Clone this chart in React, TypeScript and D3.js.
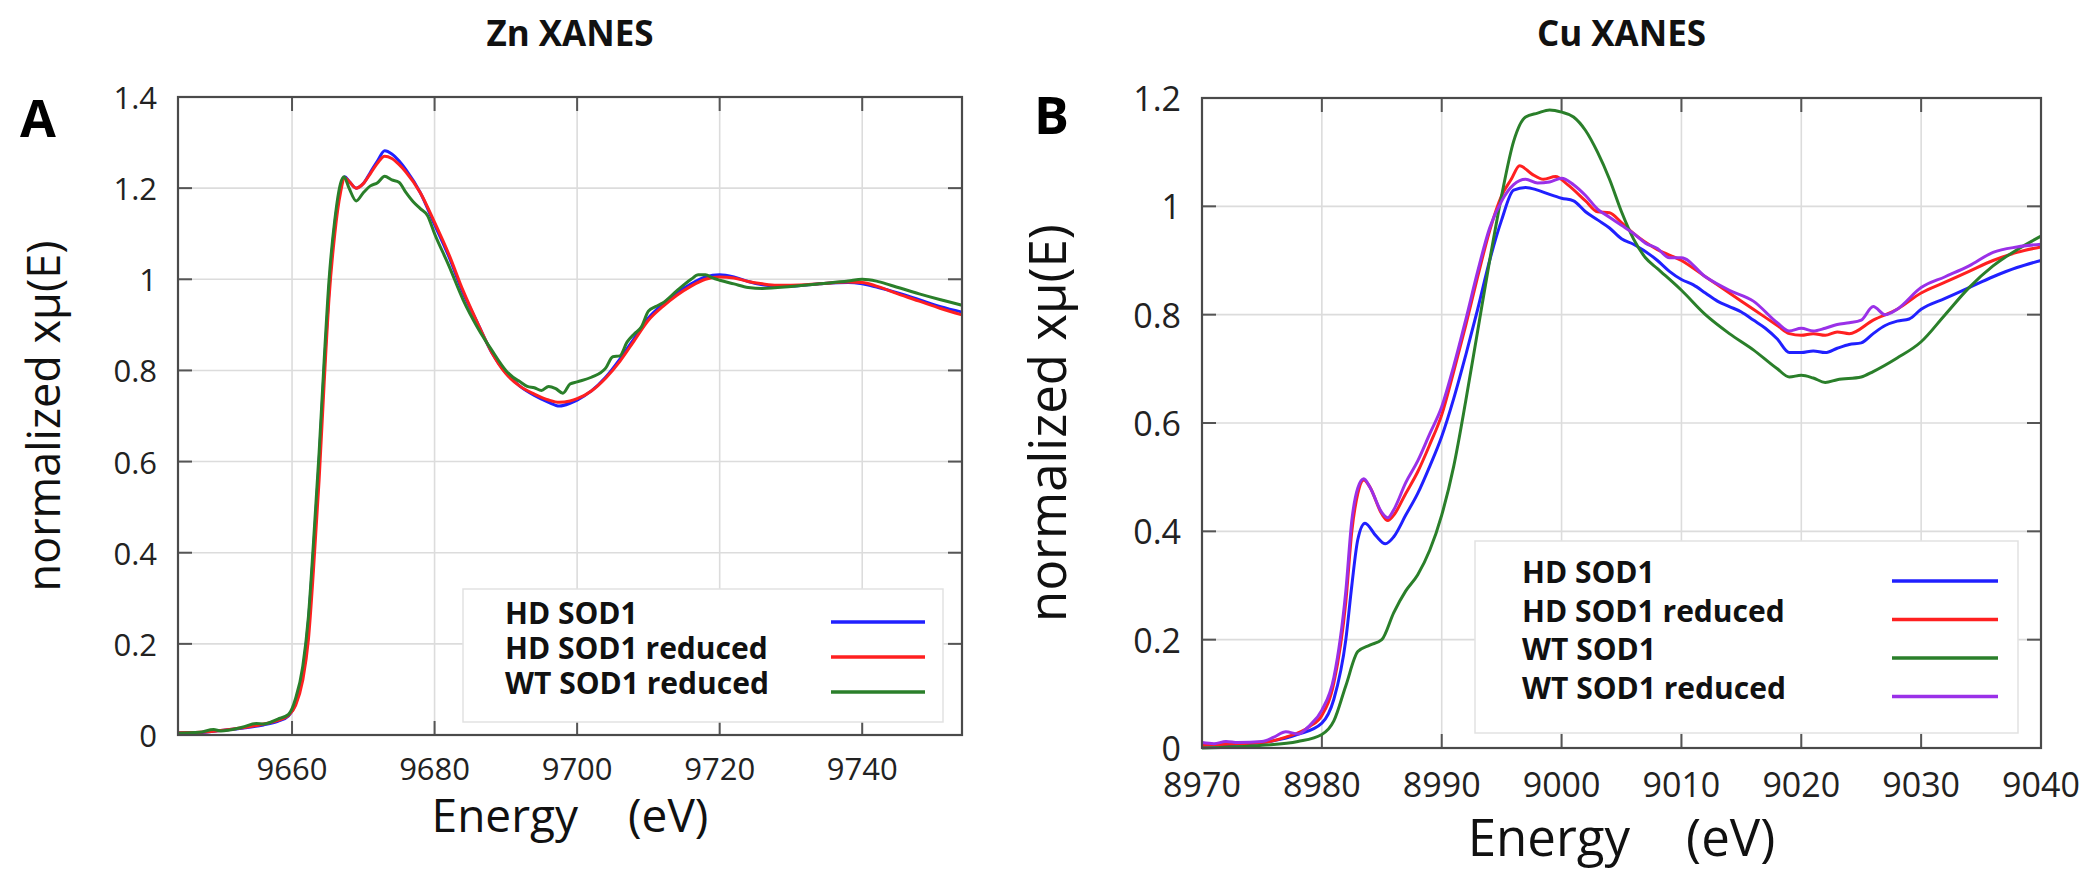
import React from "react";
import * as d3 from "d3";

type Pt = [number, number];

// ---------- Panel A : Zn XANES ----------
const znXTicks = [9660, 9680, 9700, 9720, 9740];
const znYTicks = [0, 0.2, 0.4, 0.6, 0.8, 1, 1.2, 1.4];

const znHD: Pt[] = [
  [9644, 0.005], [9647, 0.005], [9650, 0.01], [9653, 0.015], [9656, 0.022], [9658, 0.03], [9659.5, 0.042],
  [9660.5, 0.07], [9661.5, 0.14], [9662.3, 0.25], [9663, 0.4], [9663.8, 0.6], [9664.5, 0.8], [9665.2, 0.98],
  [9666, 1.12], [9666.8, 1.2], [9667.4, 1.225], [9668, 1.215], [9669, 1.2], [9670, 1.21], [9671, 1.235],
  [9672, 1.26], [9673, 1.282], [9674, 1.275], [9675, 1.26], [9676, 1.24], [9678, 1.19], [9680, 1.12],
  [9682, 1.05], [9684, 0.97], [9686, 0.905], [9688, 0.84], [9690, 0.795], [9692, 0.765], [9694, 0.745],
  [9696, 0.73], [9697.5, 0.722], [9699, 0.728], [9700, 0.735], [9702, 0.755], [9704, 0.785], [9706, 0.825],
  [9708, 0.87], [9710, 0.915], [9712, 0.945], [9714, 0.97], [9716, 0.99], [9718, 1.005], [9720, 1.01],
  [9722, 1.005], [9724, 0.995], [9726, 0.988], [9728, 0.985], [9730, 0.985], [9734, 0.99], [9738, 0.993],
  [9740, 0.99], [9742, 0.983], [9745, 0.97], [9748, 0.955], [9751, 0.94], [9754, 0.928],
];
const znHDred: Pt[] = [
  [9644, 0.005], [9647, 0.006], [9650, 0.01], [9653, 0.016], [9656, 0.024], [9658, 0.032], [9659.5, 0.043],
  [9660.5, 0.065], [9661.5, 0.12], [9662.3, 0.21], [9663, 0.36], [9663.8, 0.56], [9664.5, 0.77], [9665.2, 0.96],
  [9666, 1.1], [9666.8, 1.19], [9667.4, 1.222], [9668, 1.215], [9669, 1.2], [9670, 1.21], [9671, 1.232],
  [9672, 1.255], [9673, 1.27], [9674, 1.265], [9675, 1.252], [9676, 1.235], [9678, 1.19], [9680, 1.125],
  [9682, 1.055], [9684, 0.975], [9686, 0.905], [9688, 0.84], [9690, 0.793], [9692, 0.765], [9694, 0.748],
  [9696, 0.735], [9697.5, 0.73], [9699, 0.733], [9700, 0.738], [9702, 0.755], [9704, 0.783], [9706, 0.82],
  [9708, 0.865], [9710, 0.91], [9712, 0.94], [9714, 0.965], [9716, 0.985], [9718, 1.0], [9720, 1.005],
  [9722, 1.003], [9724, 0.995], [9726, 0.99], [9728, 0.987], [9730, 0.987], [9734, 0.99], [9738, 0.994],
  [9740, 0.993], [9742, 0.985], [9745, 0.968], [9748, 0.952], [9751, 0.936], [9754, 0.922],
];
const znWTred: Pt[] = [
  [9644, 0.004], [9647, 0.006], [9649, 0.012], [9650, 0.009], [9653, 0.017], [9655, 0.025], [9656, 0.024],
  [9658, 0.035], [9659.5, 0.045], [9660.5, 0.08], [9661.5, 0.15], [9662.3, 0.26], [9663, 0.42], [9663.8, 0.62],
  [9664.5, 0.82], [9665.2, 1.0], [9666, 1.13], [9666.8, 1.21], [9667.3, 1.225], [9668, 1.2], [9669, 1.172],
  [9670, 1.19], [9671, 1.205], [9672, 1.212], [9673, 1.226], [9674, 1.218], [9675, 1.213], [9676, 1.19],
  [9677, 1.17], [9678, 1.155], [9679, 1.14], [9680, 1.1], [9682, 1.03], [9684, 0.955], [9686, 0.895],
  [9688, 0.845], [9690, 0.8], [9691, 0.785], [9692, 0.775], [9693, 0.765], [9694, 0.762], [9695, 0.756],
  [9696, 0.765], [9697, 0.76], [9698, 0.75], [9699, 0.77], [9700, 0.775], [9702, 0.785], [9704, 0.805],
  [9705, 0.83], [9706, 0.832], [9707, 0.862], [9708, 0.88], [9709, 0.895], [9710, 0.93], [9711, 0.94],
  [9712, 0.948], [9714, 0.975], [9716, 1.0], [9717, 1.01], [9718, 1.01], [9719, 1.003], [9720, 0.998],
  [9722, 0.99], [9724, 0.982], [9726, 0.98], [9730, 0.984], [9734, 0.99], [9738, 0.996], [9740, 1.0],
  [9742, 0.996], [9744, 0.987], [9748, 0.968], [9751, 0.955], [9754, 0.943],
];

// ---------- Panel B : Cu XANES ----------
const cuXTicks = [8970, 8980, 8990, 9000, 9010, 9020, 9030, 9040];
const cuYTicks = [0, 0.2, 0.4, 0.6, 0.8, 1, 1.2];

const cuHD: Pt[] = [
  [8970, 0.005], [8973, 0.007], [8975, 0.01], [8978, 0.025], [8980, 0.046], [8981, 0.09], [8982, 0.2],
  [8982.5, 0.3], [8983, 0.385], [8983.6, 0.415], [8984.5, 0.392], [8985.3, 0.377], [8986, 0.39], [8987, 0.43],
  [8988, 0.47], [8989, 0.52], [8990, 0.575], [8991, 0.645], [8992, 0.725], [8993, 0.81], [8994, 0.9],
  [8995, 0.975], [8996, 1.03], [8997, 1.035], [8998, 1.03], [8999, 1.022], [9000, 1.015], [9001, 1.01],
  [9002, 0.99], [9003, 0.975], [9004, 0.96], [9005, 0.94], [9006, 0.93], [9008, 0.9], [9009, 0.88],
  [9010, 0.865], [9011, 0.855], [9012, 0.84], [9013, 0.825], [9014, 0.815], [9015, 0.805], [9016, 0.79],
  [9017, 0.775], [9018, 0.755], [9019, 0.73], [9020, 0.73], [9021, 0.733], [9022, 0.73], [9023, 0.738],
  [9024, 0.745], [9025, 0.748], [9026, 0.765], [9027, 0.78], [9028, 0.788], [9029, 0.792], [9030, 0.81],
  [9032, 0.83], [9034, 0.85], [9036, 0.87], [9038, 0.887], [9040, 0.9],
];
const cuHDred: Pt[] = [
  [8970, 0.005], [8973, 0.008], [8975, 0.01], [8977, 0.02], [8979, 0.04], [8980, 0.06], [8981, 0.12],
  [8982, 0.27], [8982.5, 0.4], [8983, 0.47], [8983.5, 0.495], [8984, 0.482], [8985, 0.432], [8985.5, 0.42],
  [8986, 0.43], [8987, 0.47], [8988, 0.51], [8989, 0.56], [8990, 0.615], [8991, 0.695], [8992, 0.78],
  [8993, 0.87], [8994, 0.955], [8995, 1.02], [8995.8, 1.05], [8996.5, 1.075], [8997.5, 1.06], [8998.5, 1.05],
  [8999.5, 1.055], [9000.5, 1.04], [9002, 1.01], [9003, 0.99], [9004, 0.988], [9005, 0.97], [9006, 0.95],
  [9008, 0.92], [9010, 0.9], [9012, 0.87], [9014, 0.84], [9016, 0.81], [9018, 0.78], [9019, 0.765],
  [9020, 0.762], [9021, 0.765], [9022, 0.762], [9023, 0.768], [9024, 0.765], [9026, 0.79], [9028, 0.81],
  [9030, 0.84], [9032, 0.86], [9034, 0.88], [9036, 0.9], [9038, 0.915], [9040, 0.925],
];
const cuWT: Pt[] = [
  [8970, 0.0], [8975, 0.005], [8978, 0.012], [8980, 0.025], [8981, 0.05], [8982, 0.115], [8983, 0.178],
  [8984, 0.19], [8985, 0.2], [8986, 0.25], [8987, 0.29], [8988, 0.32], [8989, 0.365], [8990, 0.43],
  [8991, 0.52], [8992, 0.64], [8993, 0.77], [8994, 0.9], [8995, 1.02], [8996, 1.12], [8997, 1.165],
  [8998, 1.172], [8999, 1.178], [9000, 1.174], [9001, 1.165], [9002, 1.14], [9003, 1.1], [9004, 1.05],
  [9005, 0.99], [9006, 0.94], [9007, 0.905], [9008, 0.885], [9010, 0.845], [9012, 0.8], [9014, 0.765],
  [9016, 0.735], [9018, 0.7], [9019, 0.685], [9020, 0.688], [9021, 0.683], [9022, 0.675], [9023, 0.68],
  [9025, 0.685], [9026, 0.695], [9028, 0.72], [9030, 0.75], [9032, 0.8], [9034, 0.85], [9036, 0.89],
  [9038, 0.92], [9040, 0.945],
];
const cuWTred: Pt[] = [
  [8970, 0.01], [8971, 0.008], [8972, 0.012], [8973, 0.01], [8975, 0.012], [8976, 0.02], [8977, 0.03],
  [8978, 0.026], [8979, 0.042], [8980, 0.07], [8981, 0.13], [8982, 0.29], [8982.5, 0.42], [8983, 0.48],
  [8983.5, 0.497], [8984, 0.482], [8985, 0.435], [8985.5, 0.425], [8986, 0.44], [8987, 0.49], [8988, 0.53],
  [8989, 0.58], [8990, 0.63], [8991, 0.705], [8992, 0.79], [8993, 0.88], [8994, 0.96], [8995, 1.01],
  [8996, 1.04], [8997, 1.05], [8998, 1.043], [8999, 1.045], [9000, 1.052], [9001, 1.04], [9002, 1.02],
  [9003, 0.995], [9004, 0.98], [9005, 0.965], [9006, 0.95], [9007, 0.932], [9008, 0.922], [9009, 0.905],
  [9010, 0.905], [9012, 0.87], [9014, 0.845], [9016, 0.825], [9018, 0.785], [9019, 0.77], [9020, 0.775],
  [9021, 0.77], [9022, 0.775], [9023, 0.782], [9024, 0.785], [9025, 0.79], [9026, 0.815], [9027, 0.8],
  [9028, 0.81], [9030, 0.85], [9032, 0.87], [9034, 0.89], [9036, 0.915], [9038, 0.925], [9040, 0.93],
];

const BLUE = "#2020ff";
const RED = "#ff2020";
const GREEN = "#2a7f2a";
const PURPLE = "#9a30e8";

type Series = { name: string; color: string; data: Pt[] };

type PanelProps = {
  title: string;
  letter: string;
  xDomain: [number, number];
  yDomain: [number, number];
  xTicks: number[];
  yTicks: number[];
  series: Series[];
  box: { l: number; r: number; t: number; b: number };
  tickFont: number;
  xTickBase: number;
  yLabelX: number;
  yLabelFont: number;
  xLabelBase: number;
  xLabelFont: number;
  xLabelGap: number;
  titleBase: number;
  letterX: number;
  letterBase: number;
  legend: { l: number; r: number; t: number; b: number; textX: number; lineX1: number; lineX2: number; firstY: number; step: number };
};

function Panel(p: PanelProps) {
  const x = d3.scaleLinear().domain(p.xDomain).range([p.box.l, p.box.r]);
  const y = d3.scaleLinear().domain(p.yDomain).range([p.box.b, p.box.t]);
  const line = d3
    .line<Pt>()
    .x((d) => x(d[0]))
    .y((d) => y(d[1]))
    .curve(d3.curveMonotoneX);
  const cx = (p.box.l + p.box.r) / 2;
  const cy = (p.box.t + p.box.b) / 2;
  const fmt = (v: number) => (Number.isInteger(v) ? String(v) : String(+v.toFixed(1)));
  const tickLen = 14;
  return (
    <g>
      {/* grid */}
      {p.xTicks.map((t) => (
        <line key={"gx" + t} x1={x(t)} x2={x(t)} y1={p.box.t} y2={p.box.b} stroke="#dcdcdc" strokeWidth={1.6} />
      ))}
      {p.yTicks.map((t) => (
        <line key={"gy" + t} x1={p.box.l} x2={p.box.r} y1={y(t)} y2={y(t)} stroke="#dcdcdc" strokeWidth={1.6} />
      ))}
      {/* ticks */}
      {p.xTicks.map((t) => (
        <g key={"tx" + t}>
          <line x1={x(t)} x2={x(t)} y1={p.box.b} y2={p.box.b - tickLen} stroke="#555" strokeWidth={2} />
          <line x1={x(t)} x2={x(t)} y1={p.box.t} y2={p.box.t + tickLen} stroke="#555" strokeWidth={2} />
          <text x={x(t)} y={p.xTickBase} textAnchor="middle" fontSize={p.tickFont} fill="#222">
            {fmt(t)}
          </text>
        </g>
      ))}
      {p.yTicks.map((t) => (
        <g key={"ty" + t}>
          <line x1={p.box.l} x2={p.box.l + tickLen} y1={y(t)} y2={y(t)} stroke="#555" strokeWidth={2} />
          <line x1={p.box.r} x2={p.box.r - tickLen} y1={y(t)} y2={y(t)} stroke="#555" strokeWidth={2} />
          <text x={p.box.l - 21} y={y(t)} textAnchor="end" dominantBaseline="central" fontSize={p.tickFont} fill="#222">
            {fmt(t)}
          </text>
        </g>
      ))}
      {/* legend box */}
      <rect
        x={p.legend.l}
        y={p.legend.t}
        width={p.legend.r - p.legend.l}
        height={p.legend.b - p.legend.t}
        fill="#fff"
        stroke="#e2e2e2"
        strokeWidth={1.5}
      />
      {/* curves */}
      <g>
        {p.series.map((s) => (
          <path key={s.name} d={line(s.data) || ""} fill="none" stroke={s.color} strokeWidth={3} strokeLinejoin="round" />
        ))}
      </g>
      {/* legend entries */}
      {p.series.map((s, i) => {
        const ly = p.legend.firstY + i * p.legend.step;
        return (
          <g key={"lg" + s.name}>
            <text x={p.legend.textX} y={ly + 2} fontSize={30} fontWeight="bold" fill="#111">
              {s.name}
            </text>
            <line x1={p.legend.lineX1} x2={p.legend.lineX2} y1={ly} y2={ly} stroke={s.color} strokeWidth={3.5} />
          </g>
        );
      })}
      {/* frame */}
      <rect
        x={p.box.l}
        y={p.box.t}
        width={p.box.r - p.box.l}
        height={p.box.b - p.box.t}
        fill="none"
        stroke="#4a4a4a"
        strokeWidth={2.2}
      />
      {/* titles */}
      <text x={cx} y={p.titleBase} textAnchor="middle" fontSize={35} fontWeight="bold" fill="#111">
        {p.title}
      </text>
      <text x={p.letterX} y={p.letterBase} fontSize={52} fontWeight="bold" fill="#000">
        {p.letter}
      </text>
      <text
        transform={`translate(${p.yLabelX},${cy}) rotate(-90)`}
        textAnchor="middle"
        dominantBaseline="central"
        fontSize={p.yLabelFont}
        fill="#111"
      >
        normalized xμ(E)
      </text>
      <text x={cx} y={p.xLabelBase} textAnchor="middle" fontSize={p.xLabelFont} fill="#111">
        Energy
        <tspan dx={p.xLabelGap}>(eV)</tspan>
      </text>
    </g>
  );
}

export default function App() {
  return (
    <div style={{ position: "absolute", left: 0, top: 0 }}>
      <svg width={2100} height={873} style={{ display: "block", fontFamily: "'Open Sans', 'DejaVu Sans', sans-serif" }}>
        <rect width={2100} height={873} fill="#fff" />
        <Panel
          title="Zn XANES"
          letter="A"
          xDomain={[9644, 9754]}
          yDomain={[0, 1.4]}
          xTicks={znXTicks}
          yTicks={znYTicks}
          series={[
            { name: "HD SOD1", color: BLUE, data: znHD },
            { name: "HD SOD1 reduced", color: RED, data: znHDred },
            { name: "WT SOD1 reduced", color: GREEN, data: znWTred },
          ]}
          box={{ l: 178, r: 962, t: 97, b: 735 }}
          tickFont={31}
          xTickBase={780}
          yLabelX={42}
          yLabelFont={45}
          xLabelBase={832}
          xLabelFont={46}
          xLabelGap={50}
          titleBase={46}
          letterX={20}
          letterBase={137}
          legend={{ l: 463, r: 943, t: 589, b: 722, textX: 505, lineX1: 831, lineX2: 925, firstY: 622, step: 35 }}
        />
        <Panel
          title="Cu XANES"
          letter="B"
          xDomain={[8970, 9040]}
          yDomain={[0, 1.2]}
          xTicks={cuXTicks}
          yTicks={cuYTicks}
          series={[
            { name: "HD SOD1", color: BLUE, data: cuHD },
            { name: "HD SOD1 reduced", color: RED, data: cuHDred },
            { name: "WT SOD1", color: GREEN, data: cuWT },
            { name: "WT SOD1 reduced", color: PURPLE, data: cuWTred },
          ]}
          box={{ l: 1202, r: 2041, t: 98, b: 748 }}
          tickFont={34}
          xTickBase={797}
          yLabelX={1046}
          yLabelFont={51}
          xLabelBase={856}
          xLabelFont={51}
          xLabelGap={56}
          titleBase={46}
          letterX={1034}
          letterBase={134}
          legend={{ l: 1475, r: 2018, t: 541, b: 733, textX: 1522, lineX1: 1892, lineX2: 1998, firstY: 581, step: 38.5 }}
        />
      </svg>
    </div>
  );
}
